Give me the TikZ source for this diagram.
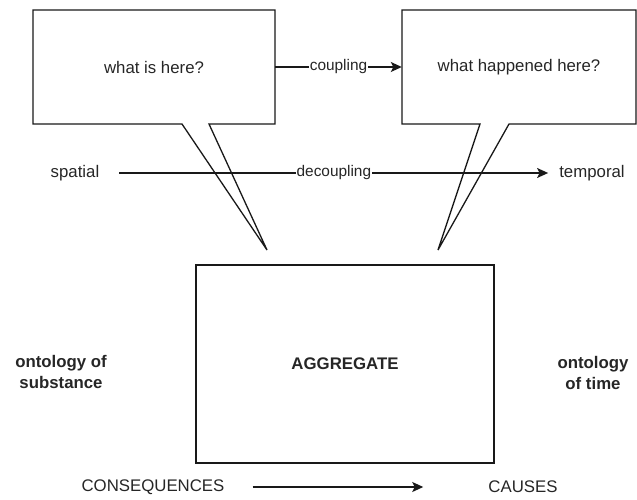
\documentclass[tikz,border=0pt]{standalone}
\usepackage{fontspec}
\setmainfont{Liberation Sans}
\usetikzlibrary{arrows.meta}
\begin{document}
\begin{tikzpicture}[x=1pt,y=-1pt,
  txt/.style={font=\fontsize{16.8}{21}\selectfont, text=black!85, inner sep=0pt, align=center},
  bd/.style={txt, font=\fontsize{16.8}{21}\selectfont\bfseries},
  lbl/.style={font=\fontsize{15.4}{18}\selectfont, text=black!85, fill=white, inner sep=1pt},
  ln/.style={line width=1.3pt, draw=black!90, line join=miter},
  arr/.style={ln, -{Stealth[length=11pt,width=10pt,inset=2.5pt]}}]
\useasboundingbox (0,0) rectangle (637,500);

% callout boxes
\node[txt, minimum width=242pt, minimum height=114pt] (q1) at (154,67) {what is here?};
\draw[ln] (33,10) -- (275,10) -- (275,124) -- (209,124) -- (267,250) -- (182,124) -- (33,124) -- cycle;
\node[txt, minimum width=234pt, minimum height=114pt] (q2) at (519,67) {what happened here?};
\draw[ln] (402,10) -- (636,10) -- (636,124) -- (509,124) -- (438,250) -- (480,124) -- (402,124) -- cycle;

\draw[arr] (q1.east) -- node[lbl] {coupling} (q2.west);

% spatial / temporal
\node[txt] (sp) at (75,173) {spatial};
\node[txt] (tp) at (592,173) {temporal};
\draw[arr, shorten <=20pt, shorten >=11pt] (sp.east) -- node[lbl, pos=0.51] {decoupling} (tp.west);

% aggregate
\node[bd, ln, draw, minimum width=298pt, minimum height=198pt] (agg) at (345,364) {AGGREGATE};

\node[bd] (os) at (61,371.5) {ontology of\\substance};
\node[bd] (ot) at (593,372.5) {ontology\\of time};

% consequences / causes
\node[txt] (cons) at (153,487) {CONSEQUENCES};
\node[txt] (caus) at (523,487) {CAUSES};
\draw[arr, shorten <=28pt, shorten >=65pt] (cons.east) -- (caus.west);
\end{tikzpicture}
\end{document}
